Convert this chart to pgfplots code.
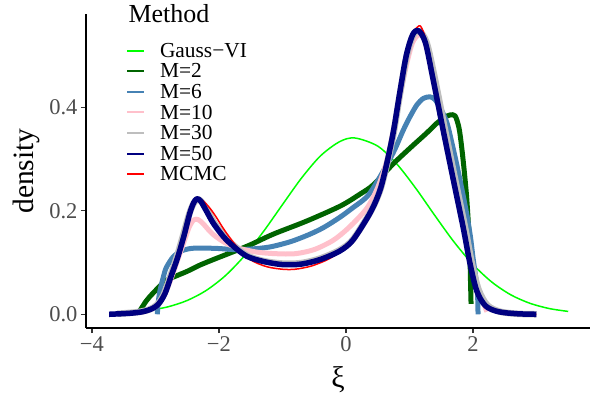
\documentclass[border=0pt]{standalone}
\usepackage{fontspec}
\setmainfont{Liberation Serif}
\usepackage{pgfplots}
\pgfplotsset{compat=1.18}
\definecolor{cgauss}{HTML}{00FF00}
\definecolor{cm2}{HTML}{006400}
\definecolor{cm6}{HTML}{4682B4}
\definecolor{cm10}{HTML}{FFC0CB}
\definecolor{cm30}{HTML}{BEBEBE}
\definecolor{cm50}{HTML}{000080}
\definecolor{cmcmc}{HTML}{FF0000}
\definecolor{tickgray}{HTML}{333333}
\definecolor{labgray}{HTML}{4D4D4D}
\begin{document}
\begin{tikzpicture}
\begin{axis}[name=ax, scale only axis, width=504pt, height=314pt,
  xmin=-4.094, xmax=3.843, ymin=-0.0265, ymax=0.580,
  axis x line*=bottom, axis y line*=left,
  axis line style={black, line width=1.1pt, -},
  xtick={-4,-2,0,2}, xticklabels={−4,−2,0,2},
  ytick={0,0.2,0.4}, yticklabels={0.0,0.2,0.4},
  tick align=outside, major tick length=5pt,
  tick style={color=tickgray, line width=1.1pt},
  ticklabel style={font=\fontsize{22.5}{24}\selectfont, text=labgray},
  xlabel={ξ}, ylabel={density},
  every axis x label/.style={at={(axis description cs:0.5,0)}, anchor=center, yshift=-52pt, font=\fontsize{30}{31}\selectfont},
  every axis y label/.style={at={(axis description cs:0,0.5)}, rotate=90, anchor=center, yshift=60pt, font=\fontsize{29.5}{30}\selectfont},
  legend style={at={(axis description cs:0.0794,0.9165)}, anchor=north west, draw=none, fill=none,
    inner sep=0pt, outer sep=0pt, row sep=0pt, column sep=15pt,
    font=\fontsize{21.4}{22}\selectfont,
    nodes={inner sep=0pt, text height=17pt, text depth=3.6pt}},
  legend cell align=left,
  legend image code/.code={\draw[line width=2pt] (0pt,0pt) -- (17pt,0pt);},
  every axis plot/.append style={line join=round},
]
\addplot[cgauss, line width=1.5pt, smooth] coordinates {(-3.1,0.0074)(-2.8,0.0145)(-2.5,0.0267)(-2.2,0.0461)(-1.9,0.0745)(-1.6,0.1127)(-1.3,0.1597)(-1.0,0.2118)(-0.7,0.2631)(-0.4,0.3061)(-0.1,0.3334)(0.14,0.3405)(0.5,0.3248)(0.8,0.2904)(1.1,0.2432)(1.4,0.1907)(1.7,0.1400)(2.0,0.0962)(2.3,0.0619)(2.6,0.0373)(2.9,0.0211)(3.2,0.0111)(3.5,0.0055)};
\addlegendentry{Gauss−VI}
\addplot[cm2, line width=5pt, smooth] coordinates {(-3.24,0.008)(-3.15,0.025)(-3.09,0.034)(-2.95,0.052)(-2.82,0.066)(-2.5,0.083)(-2.3,0.095)(-2.04,0.108)(-1.77,0.121)(-1.51,0.134)(-1.14,0.155)(-0.62,0.18)(-0.09,0.209)(0.22,0.232)(0.43,0.25)(0.74,0.29)(1.0,0.32)(1.27,0.35)(1.43,0.369)(1.55,0.38)(1.64,0.385)(1.72,0.383)(1.78,0.36)(1.82,0.325)(1.86,0.28)(1.9,0.227)(1.93,0.17)(1.95,0.125)(1.96,0.07)(1.97,0.02)};
\addlegendentry{M=2}
\addplot[cm6, line width=5pt, smooth] coordinates {(-2.97,0.0)(-2.96,0.02)(-2.93,0.045)(-2.88,0.07)(-2.83,0.09)(-2.72,0.111)(-2.6,0.122)(-2.45,0.127)(-2.3,0.128)(-2.0,0.127)(-1.77,0.125)(-1.5,0.126)(-1.2,0.13)(-0.88,0.14)(-0.6,0.153)(-0.36,0.167)(-0.1,0.187)(0.1,0.205)(0.33,0.227)(0.5,0.258)(0.74,0.311)(0.9,0.355)(1.01,0.382)(1.12,0.405)(1.22,0.417)(1.32,0.42)(1.4,0.415)(1.5,0.395)(1.59,0.37)(1.67,0.33)(1.74,0.292)(1.82,0.245)(1.9,0.195)(1.96,0.15)(2.0,0.11)(2.04,0.075)(2.07,0.045)(2.08,0.0)};
\addlegendentry{M=6}
\addplot[cm10, line width=5pt, smooth] coordinates {(-3.25,0.003)(-3.1,0.008)(-2.95,0.02)(-2.85,0.04)(-2.75,0.07)(-2.65,0.105)(-2.55,0.14)(-2.47,0.168)(-2.4,0.182)(-2.33,0.183)(-2.25,0.175)(-2.1,0.155)(-1.9,0.138)(-1.7,0.128)(-1.4,0.12)(-1.1,0.117)(-0.8,0.117)(-0.5,0.125)(-0.2,0.143)(0.05,0.168)(0.33,0.205)(0.5,0.245)(0.65,0.3)(0.8,0.39)(0.95,0.48)(1.05,0.525)(1.15,0.54)(1.22,0.535)(1.3,0.5)(1.4,0.44)(1.55,0.35)(1.7,0.26)(1.85,0.17)(1.97,0.1)(2.08,0.05)(2.17,0.02)(2.22,0.005)};
\addlegendentry{M=10}
\addplot[cm30, line width=6.5pt, smooth] coordinates {(-3.6,0.001)(-3.3,0.004)(-3.1,0.009)(-2.97,0.019)(-2.87,0.038)(-2.77,0.072)(-2.67,0.108)(-2.57,0.15)(-2.47,0.193)(-2.40,0.214)(-2.34,0.222)(-2.28,0.218)(-2.18,0.2)(-2.07,0.176)(-1.91,0.15)(-1.75,0.131)(-1.55,0.113)(-1.3,0.103)(-1.0,0.098)(-0.7,0.099)(-0.4,0.108)(-0.1,0.124)(0.1,0.143)(0.33,0.186)(0.45,0.213)(0.55,0.244)(0.65,0.292)(0.75,0.35)(0.85,0.425)(0.95,0.495)(1.05,0.537)(1.15,0.547)(1.27,0.525)(1.4,0.455)(1.56,0.356)(1.72,0.26)(1.88,0.165)(1.98,0.1)(2.09,0.047)(2.23,0.017)(2.43,0.005)(2.7,0.001)(3.0,0.0)};
\addlegendentry{M=30}
\addplot[cmcmc, line width=1.5pt, smooth, forget plot] coordinates {(-3.3,0.003)(-3.1,0.008)(-2.95,0.02)(-2.85,0.04)(-2.75,0.074)(-2.65,0.109)(-2.55,0.151)(-2.45,0.196)(-2.38,0.216)(-2.32,0.223)(-2.25,0.219)(-2.15,0.206)(-2.05,0.189)(-1.9,0.16)(-1.7,0.128)(-1.5,0.105)(-1.25,0.092)(-1.0,0.087)(-0.8,0.087)(-0.55,0.093)(-0.3,0.105)(-0.1,0.12)(0.1,0.141)(0.33,0.185)(0.45,0.213)(0.55,0.245)(0.65,0.295)(0.75,0.355)(0.85,0.43)(0.95,0.5)(1.05,0.542)(1.12,0.554)(1.17,0.557)(1.23,0.542)(1.3,0.51)(1.37,0.457)(1.53,0.357)(1.69,0.26)(1.85,0.165)(1.95,0.1)(2.06,0.045)(2.2,0.016)(2.4,0.005)(2.7,0.001)(3.0,0.0)};
\addplot[cm50, line width=5.5pt, smooth] coordinates {(-3.73,0.000)(-3.4,0.002)(-3.2,0.005)(-3.05,0.011)(-2.95,0.02)(-2.85,0.04)(-2.75,0.075)(-2.65,0.11)(-2.55,0.152)(-2.46,0.195)(-2.40,0.215)(-2.35,0.223)(-2.29,0.219)(-2.2,0.2)(-2.09,0.176)(-1.93,0.15)(-1.77,0.131)(-1.56,0.112)(-1.3,0.102)(-1.0,0.096)(-0.7,0.097)(-0.4,0.106)(-0.1,0.122)(0.1,0.142)(0.33,0.185)(0.45,0.213)(0.55,0.245)(0.65,0.295)(0.75,0.355)(0.85,0.43)(0.95,0.5)(1.05,0.54)(1.14,0.548)(1.25,0.525)(1.37,0.455)(1.53,0.356)(1.69,0.26)(1.85,0.165)(1.95,0.1)(2.06,0.045)(2.2,0.016)(2.4,0.005)(2.7,0.001)(3.0,0.0)};
\addlegendentry{M=50}
\addlegendimage{cmcmc, line width=1.5pt}
\addlegendentry{MCMC}
\end{axis}
\node[anchor=base west, font=\fontsize{26}{27}\selectfont] at ([shift={(39pt,305pt)}]ax.south west) {Method};
\pgfresetboundingbox
\path[use as bounding box] ([shift={(-86pt,-68pt)}]ax.south west) rectangle ([shift={(12pt,14pt)}]ax.north east);
\end{tikzpicture}
\end{document}
